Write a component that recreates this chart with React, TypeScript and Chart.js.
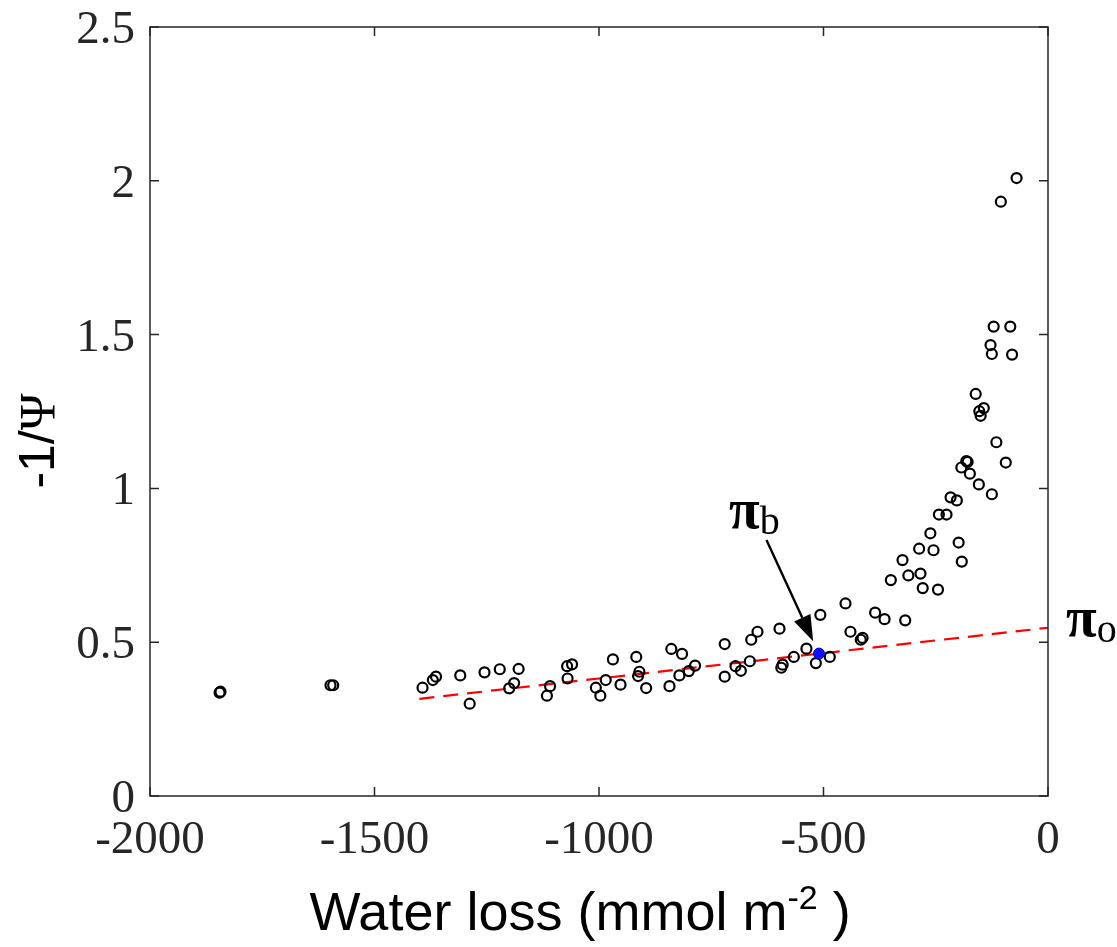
import React, { useEffect, useRef } from "react";
import { Chart, registerables } from "chart.js";

Chart.register(...registerables);

// Measured points: water loss (mmol m-2) and -1/Psi
const waterLoss = [
  -1845, -1843, -1598, -1592,
  -1393, -1370, -1363, -1309, -1288, -1255, -1221, -1200, -1189, -1179,
  -1116, -1109, -1071, -1060, -1070, -1007, -997, -985, -969, -952,
  -917, -910, -913, -895,
  -843, -839, -821, -815, -800, -786, -720, -720, -696, -684, -664, -661,
  -647, -598, -594, -591, -566, -538, -517, -507, -486, -451, -440, -417,
  -413, -385, -364, -350, -324,
  -311, -284, -279, -245, -318, -287, -255, -262, -243, -226, -217, -203,
  -199, -192, -193, -182, -179, -174, -154, -125, -115, -94, -161, -153,
  -150, -143,
  -70, -105, -121, -84, -128, -125, -80,
];
const invPsi = [
  0.336, 0.339, 0.36, 0.36,
  0.352, 0.377, 0.388, 0.392, 0.3, 0.402, 0.412, 0.35, 0.367, 0.413,
  0.326, 0.357, 0.422, 0.428, 0.382, 0.352, 0.326, 0.377, 0.444, 0.362,
  0.452, 0.404, 0.39, 0.351,
  0.357, 0.478, 0.392, 0.462, 0.406, 0.424, 0.494, 0.388, 0.422, 0.407, 0.438, 0.508,
  0.534, 0.544, 0.417, 0.427, 0.452, 0.479, 0.432, 0.589, 0.452, 0.626, 0.534, 0.508,
  0.514, 0.596, 0.575, 0.702, 0.767,
  0.717, 0.723, 0.676, 0.671, 0.571, 0.804, 0.799, 0.854, 0.915, 0.915, 0.971, 0.961,
  0.824, 0.762, 1.068, 1.089, 1.086, 1.048, 1.013, 0.981, 1.15, 1.084, 1.307, 1.251,
  1.236, 1.261,
  2.009, 1.932, 1.526, 1.526, 1.466, 1.437, 1.435,
];

// Linear fit (dashed red)
const fitX = [-1400, 0];
const fitY = [0.316, 0.547];

// Turgor loss point (blue)
const tlpX = [-510];
const tlpY = [0.463];

// Arrow annotation (data coordinates)
const arrowTail = { x: -627, y: 0.832 };
const arrowTip = { x: -523, y: 0.503 };

// Axis ticks
const xTicks = [-2000, -1500, -1000, -500, 0];
const xTickLabels = ["-2000", "-1500", "-1000", "-500", "0"];
const yTicks = [0, 0.5, 1, 1.5, 2, 2.5];
const yTickLabels = ["0", "0.5", "1", "1.5", "2", "2.5"];

const SERIF = '"Liberation Serif", "Times New Roman", serif';
const SANS = '"Liberation Sans", Arial, Helvetica, sans-serif';
const AXIS_COLOR = "#262626";

const framePlugin = {
  id: "matlabFrame",
  afterDatasetsDraw(chart: any) {
    const { ctx, chartArea, scales } = chart;
    const { left, right, top, bottom } = chartArea;
    const xs = scales.x;
    const ys = scales.y;
    ctx.save();

    // arrow
    const tx = xs.getPixelForValue(arrowTail.x);
    const ty = ys.getPixelForValue(arrowTail.y);
    const hx = xs.getPixelForValue(arrowTip.x);
    const hy = ys.getPixelForValue(arrowTip.y);
    const ang = Math.atan2(hy - ty, hx - tx);
    const headLen = 26;
    const headHalf = 9;
    const bx = hx - headLen * Math.cos(ang);
    const by = hy - headLen * Math.sin(ang);
    ctx.strokeStyle = "#000";
    ctx.lineWidth = 2.4;
    ctx.beginPath();
    ctx.moveTo(tx, ty);
    ctx.lineTo(bx, by);
    ctx.stroke();
    ctx.fillStyle = "#000";
    ctx.beginPath();
    ctx.moveTo(hx, hy);
    ctx.lineTo(bx + headHalf * Math.sin(ang), by - headHalf * Math.cos(ang));
    ctx.lineTo(bx - headHalf * Math.sin(ang), by + headHalf * Math.cos(ang));
    ctx.closePath();
    ctx.fill();

    // frame
    ctx.strokeStyle = AXIS_COLOR;
    ctx.lineWidth = 1.5;
    ctx.strokeRect(left, top, right - left, bottom - top);

    // ticks
    const tl = 9;
    ctx.beginPath();
    yTicks.forEach((v) => {
      const p = ys.getPixelForValue(v);
      ctx.moveTo(left, p);
      ctx.lineTo(left + tl, p);
      ctx.moveTo(right, p);
      ctx.lineTo(right - tl, p);
    });
    xTicks.forEach((v) => {
      const p = xs.getPixelForValue(v);
      ctx.moveTo(p, bottom);
      ctx.lineTo(p, bottom - tl);
      ctx.moveTo(p, top);
      ctx.lineTo(p, top + tl);
    });
    ctx.stroke();

    // tick labels
    ctx.fillStyle = AXIS_COLOR;
    ctx.font = `47px ${SERIF}`;
    ctx.textAlign = "right";
    ctx.textBaseline = "alphabetic";
    yTicks.forEach((v, i) => {
      const p = ys.getPixelForValue(v);
      ctx.fillText(yTickLabels[i], left - 15, p + 16);
    });
    ctx.textAlign = "center";
    xTicks.forEach((v, i) => {
      const p = xs.getPixelForValue(v);
      ctx.fillText(xTickLabels[i], p, bottom + 57);
    });

    // x axis title with superscript
    ctx.fillStyle = "#000";
    const mainFont = `54px ${SANS}`;
    const supFont = `34px ${SANS}`;
    const part1 = "Water loss (mmol m";
    const part2 = "-2";
    const part3 = " )";
    ctx.font = mainFont;
    const w1 = ctx.measureText(part1).width;
    const w3 = ctx.measureText(part3).width;
    ctx.font = supFont;
    const w2 = ctx.measureText(part2).width;
    const total = w1 + w2 + w3;
    const cx = 580;
    const sx = cx - total / 2;
    const baseY = 930;
    ctx.textAlign = "left";
    ctx.font = mainFont;
    ctx.fillText(part1, sx, baseY);
    ctx.font = supFont;
    ctx.fillText(part2, sx + w1, baseY - 21);
    ctx.font = mainFont;
    ctx.fillText(part3, sx + w1 + w2, baseY);

    // y axis title (rotated)
    ctx.save();
    ctx.translate(54, 441);
    ctx.rotate(-Math.PI / 2);
    const yA = "-1/";
    const yB = "\u03A8";
    ctx.font = `50px ${SANS}`;
    const wa = ctx.measureText(yA).width;
    ctx.font = `50px ${SERIF}`;
    const wb = ctx.measureText(yB).width;
    const ys0 = -(wa + wb) / 2;
    ctx.font = `50px ${SANS}`;
    ctx.fillText(yA, ys0, 0);
    ctx.font = `50px ${SERIF}`;
    ctx.fillText(yB, ys0 + wa, 0);
    ctx.restore();

    // pi_b label
    ctx.fillStyle = "#000";
    ctx.font = `bold 56px ${SERIF}`;
    ctx.fillText("\u03C0", 729, 528);
    const wpi = ctx.measureText("\u03C0").width;
    ctx.font = `40px ${SERIF}`;
    ctx.fillText("b", 729 + wpi, 534);

    // pi_o label
    ctx.font = `bold 56px ${SERIF}`;
    ctx.fillText("\u03C0", 1066, 636);
    ctx.font = `40px ${SERIF}`;
    ctx.fillText("o", 1066 + wpi, 642);

    ctx.restore();
  },
};

export default function App() {
  const canvasRef = useRef<HTMLCanvasElement | null>(null);

  useEffect(() => {
    if (!canvasRef.current) return;
    const chart = new Chart(canvasRef.current, {
      type: "scatter",
      data: {
        datasets: [
          {
            type: "scatter",
            label: "TLP",
            data: tlpX.map((x, i) => ({ x, y: tlpY[i] })),
            pointRadius: 5.5,
            pointBackgroundColor: "#1010ff",
            pointBorderColor: "#0000cc",
            pointBorderWidth: 1,
            order: 0,
          } as any,
          {
            type: "scatter",
            label: "Data",
            data: waterLoss.map((x, i) => ({ x, y: invPsi[i] })),
            pointRadius: 5,
            pointBackgroundColor: "rgba(0,0,0,0)",
            pointBorderColor: "#000",
            pointBorderWidth: 2.2,
            order: 1,
          } as any,
          {
            type: "line",
            label: "Fit",
            data: fitX.map((x, i) => ({ x, y: fitY[i] })),
            borderColor: "#ff0000",
            borderWidth: 2.2,
            borderDash: [15, 9],
            pointRadius: 0,
            fill: false,
            order: 2,
          } as any,
        ],
      },
      options: {
        animation: false,
        responsive: true,
        maintainAspectRatio: false,
        layout: { padding: { left: 150, right: 69, top: 27, bottom: 151 } },
        plugins: {
          legend: { display: false },
          tooltip: { enabled: false },
        },
        scales: {
          x: { type: "linear", min: -2000, max: 0, display: false },
          y: { type: "linear", min: 0, max: 2.5, display: false },
        },
      },
      plugins: [framePlugin],
    });
    return () => chart.destroy();
  }, []);

  return (
    <div
      style={{
        position: "fixed",
        left: 0,
        top: 0,
        width: "1117px",
        height: "947px",
        background: "#fff",
      }}
    >
      <canvas ref={canvasRef} />
    </div>
  );
}
